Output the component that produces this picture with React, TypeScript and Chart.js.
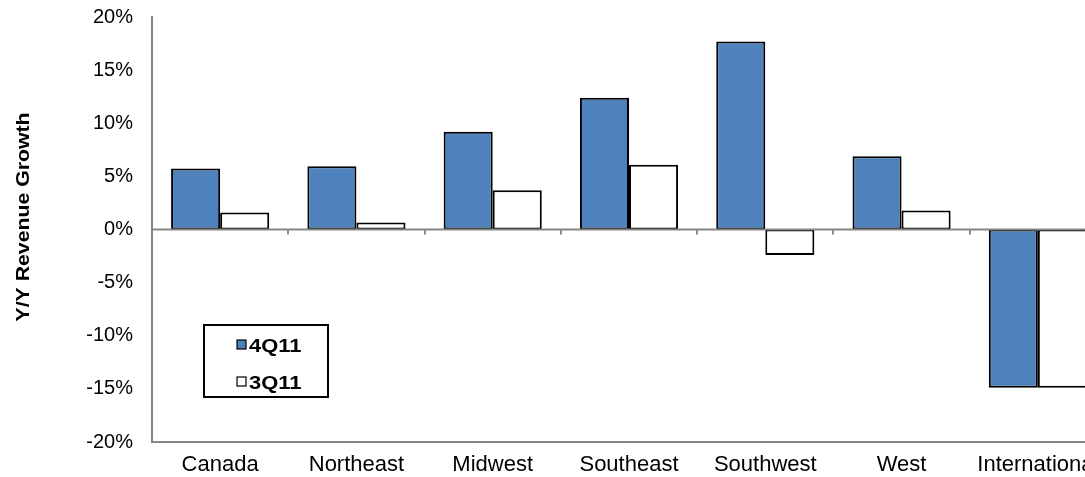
import React, { useEffect, useRef } from "react";
import { Chart, registerables } from "chart.js";

Chart.register(...registerables);

const regions = ["Canada", "Northeast", "Midwest", "Southeast", "Southwest", "West", "International"];
const growth4Q11 = [5.75, 5.95, 9.2, 12.4, 17.7, 6.9, -14.9];
const growth3Q11 = [1.6, 0.65, 3.7, 6.1, -2.4, 1.8, -14.9];
const yTickValues = [-20, -15, -10, -5, 0, 5, 10, 15, 20];
const axisTitle = "Y/Y Revenue Growth";

const FONT = "'Liberation Sans', Arial, sans-serif";
const AXIS_GREY = "#868686";

// Zero line with category tick marks, drawn over the bars
const zeroLinePlugin = {
  id: "zeroLine",
  afterDatasetsDraw(chart: any) {
    const { ctx, chartArea, scales } = chart;
    const y0 = scales.y.getPixelForValue(0);
    const n = chart.data.labels.length;
    const step = (chartArea.right - chartArea.left) / n;
    ctx.save();
    ctx.strokeStyle = AXIS_GREY;
    ctx.lineWidth = 2;
    ctx.beginPath();
    ctx.moveTo(chartArea.left, y0);
    ctx.lineTo(chartArea.right, y0);
    for (let i = 1; i <= n; i++) {
      const x = Math.round(chartArea.left + i * step);
      ctx.moveTo(x, y0);
      ctx.lineTo(x, y0 + 5);
    }
    ctx.stroke();
    ctx.restore();
  },
};

// Rotated axis title and boxed legend inside the plot
const decorPlugin = {
  id: "decor",
  afterDraw(chart: any) {
    const { ctx, chartArea } = chart;
    ctx.save();
    // axis title
    ctx.font = `bold 18px ${FONT}`;
    ctx.fillStyle = "#000";
    const w = ctx.measureText(axisTitle).width;
    const stretch = 209 / w;
    ctx.translate(24, chartArea.top + 200);
    ctx.rotate(-Math.PI / 2);
    ctx.scale(stretch, 1);
    ctx.textAlign = "center";
    ctx.textBaseline = "middle";
    ctx.fillText(axisTitle, 0, 0);
    ctx.restore();

    // legend
    ctx.save();
    ctx.strokeStyle = "#000";
    ctx.lineWidth = 2;
    ctx.fillStyle = "#fff";
    ctx.fillRect(204, 325, 124, 72);
    ctx.strokeRect(204, 325, 124, 72);
    const rows = [352, 389];
    chart.data.datasets.forEach((ds: any, i: number) => {
      const base = rows[i];
      ctx.fillStyle = ds.backgroundColor;
      ctx.fillRect(237, base - 12, 9, 9);
      ctx.lineWidth = 1.2;
      ctx.strokeStyle = "#000";
      ctx.strokeRect(237, base - 12, 9, 9);
      ctx.save();
      ctx.font = `bold 18px ${FONT}`;
      ctx.fillStyle = "#000";
      ctx.textBaseline = "alphabetic";
      ctx.translate(249, base);
      ctx.scale(1.22, 1);
      ctx.fillText(ds.label, 0, 0);
      ctx.restore();
    });
    ctx.restore();
  },
};

export default function App() {
  const canvasRef = useRef<HTMLCanvasElement | null>(null);

  useEffect(() => {
    const canvas = canvasRef.current;
    if (!canvas) return;
    const chart = new Chart(canvas, {
      type: "bar",
      data: {
        labels: regions,
        datasets: [
          {
            label: "4Q11",
            data: growth4Q11,
            backgroundColor: "#4F81BD",
            borderColor: "#000",
            borderWidth: 2,
            borderSkipped: false,
            categoryPercentage: 0.72,
            barPercentage: 1,
          },
          {
            label: "3Q11",
            data: growth3Q11,
            backgroundColor: "#FFFFFF",
            borderColor: "#000",
            borderWidth: 2,
            borderSkipped: false,
            categoryPercentage: 0.72,
            barPercentage: 1,
          },
        ],
      },
      options: {
        responsive: false,
        animation: false,
        devicePixelRatio: 1,
        layout: { padding: { top: 17, right: 0, bottom: 0, left: 0 } },
        plugins: { legend: { display: false }, tooltip: { enabled: false } },
        scales: {
          x: {
            grid: { display: false, drawTicks: false },
            border: { display: true, color: AXIS_GREY, width: 2 },
            ticks: { color: "#000", font: { family: FONT, size: 22 }, padding: 10, maxRotation: 0, autoSkip: false },
            afterFit: (scale: any) => {
              scale.height = 35;
              scale.paddingLeft = 0;
              scale.paddingRight = 0;
            },
          },
          y: {
            min: -20,
            max: 20,
            afterBuildTicks: (scale: any) => {
              scale.ticks = yTickValues.map((v) => ({ value: v }));
            },
            grid: { display: false, drawTicks: false },
            border: { display: true, color: AXIS_GREY, width: 2 },
            ticks: {
              color: "#000",
              font: { family: FONT, size: 20 },
              padding: 19,
              callback: (v: any) => `${v}%`,
            },
            afterFit: (scale: any) => {
              scale.width = 152;
              scale.paddingTop = 0;
              scale.paddingBottom = 0;
            },
          },
        },
      },
      plugins: [zeroLinePlugin, decorPlugin],
    });
    return () => chart.destroy();
  }, []);

  return (
    <div style={{ position: "fixed", left: 0, top: 0, width: 1106, height: 477, background: "#fff" }}>
      <canvas ref={canvasRef} width={1106} height={477} />
    </div>
  );
}
